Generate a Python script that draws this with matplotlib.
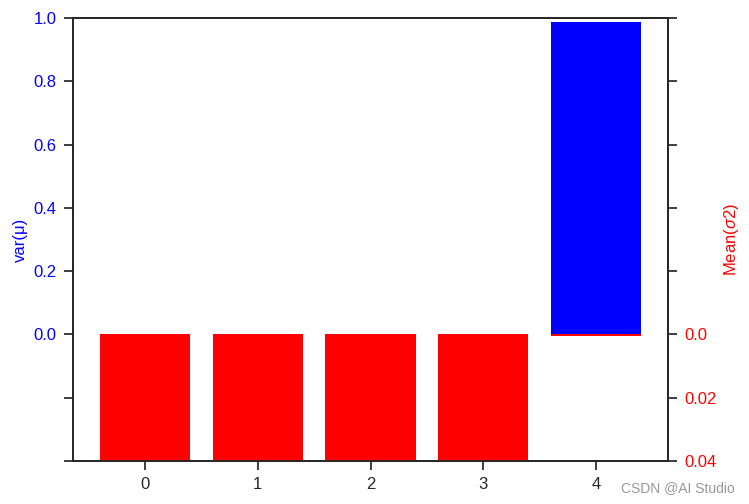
import matplotlib
matplotlib.use("Agg")
import matplotlib.pyplot as plt
import numpy as np

categories = [0, 1, 2, 3, 4]
var_mu = [0.0, 0.0, 0.0, 0.0, 0.987]
mean_sigma2 = [0.04, 0.04, 0.04, 0.04, 0.0006]

left_ticks = [-0.4, -0.2, 0.0, 0.2, 0.4, 0.6, 0.8, 1.0]
left_labels = ["", "", "0.0", "0.2", "0.4", "0.6", "0.8", "1.0"]
right_ticks = [-0.1, -0.08, -0.06, -0.04, -0.02, 0.0, 0.02, 0.04]
right_labels = ["", "", "", "", "", "0.0", "0.02", "0.04"]

plt.rcParams['font.family'] = ['Liberation Sans', 'DejaVu Sans']
plt.rcParams['mathtext.fontset'] = 'custom'
plt.rcParams['mathtext.rm'] = 'Liberation Sans'
plt.rcParams['mathtext.it'] = 'Liberation Sans:italic'

fig = plt.figure(figsize=(7.49, 5.04), dpi=100)
ax = fig.add_axes([73/749, 1-461/504, (668-73)/749, (461-18)/504])
ax2 = ax.twinx()

ax.bar(categories, var_mu, width=0.8, color='blue')
ax2.bar(categories, mean_sigma2, width=0.8, color='red')

ax.set_ylim(-0.4, 1.0)
ax.set_yticks(left_ticks)
ax.set_yticklabels(left_labels)
ax2.set_ylim(0.04, -0.1)
ax2.set_yticks(right_ticks)
ax2.set_yticklabels(right_labels)
ax.set_xticks(categories)

edge = '#262626'
for a in (ax, ax2):
    for s in a.spines.values():
        s.set_color(edge)
        s.set_linewidth(1.25)
    a.tick_params(direction='out', length=6.8, width=1.25, color=edge, labelsize=12, pad=5)

ax.tick_params(axis='y', labelcolor='blue')
ax.tick_params(axis='x', labelcolor=edge)
ax2.tick_params(axis='y', labelcolor='red')

ax.set_ylabel('var(μ)', color='blue', fontsize=12, labelpad=4)
ax2.set_ylabel(r'Mean($\sigma$2)', color='red', fontsize=12, labelpad=4)

fig.text(735/749, 1-488/504, 'CSDN @AI Studio', ha='right', va='center', color='#999999', fontsize=10)

fig.savefig('out.png', dpi=100)
